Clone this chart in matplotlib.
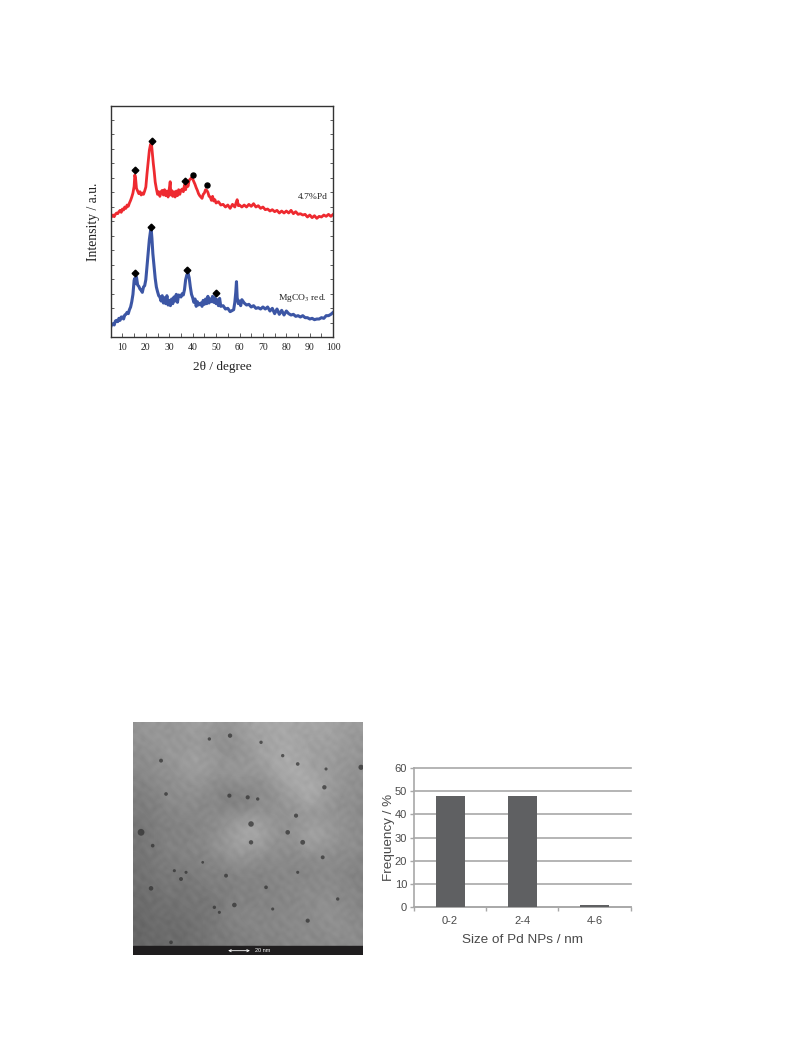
import matplotlib
matplotlib.use("Agg")
import matplotlib.pyplot as plt
import numpy as np

W, H = 793., 1057.

# XRD traces as (2theta, intensity) (arbitrary units)
red_trace = [(5,358),(5.5,362),(6,366),(6.5,361),(7,368),(7.5,372),(8,370),(8.5,376),(9,380),(9.5,374),
 (10,384),(10.5,381),(11,390),(11.5,386),(12,396),(12.5,392),(13,402),(13.5,410),(14,420),(14.5,432),
 (15,452),(15.3,486),(15.6,478),(16,446),(16.5,438),(17,430),(17.5,436),(18,426),(18.5,432),(19,428),
 (19.5,438),(20,450),(20.5,490),(21,525),(21.5,560),(22,578),(22.4,580),(22.8,550),(23.2,520),(23.6,495),
 (24,465),(24.5,445),(25,428),(25.5,436),(26,422),(26.5,436),(27,440),(27.5,426),(28,442),(28.5,424),
 (29,438),(29.5,420),(30,444),(30.4,466),(30.7,426),(31,440),(31.5,422),(32,436),(32.5,420),(33,438),
 (33.5,424),(34,442),(34.5,428),(35,440),(35.5,444),(36,436),(36.5,456),(37,442),(37.5,462),(38,452),
 (38.5,470),(39,474),(39.5,478),(40,474),(40.5,466),(41,458),(41.5,448),(42,440),(42.5,430),(43,424),
 (43.5,420),(44,416),(44.5,428),(45,432),(45.5,442),(46,440),(46.5,434),(47,422),(47.5,420),(48,410),
 (48.5,422),(49,408),(49.5,412),(50,402),(51,406),(52,396),(53,398),(54,390),(55,396),(56,386),
 (57,398),(58,390),(58.5,402),(59,412),(59.5,394),(60,396),(61,390),(62,396),(63,390),(64,398),
 (65,392),(66,400),(67,390),(68,394),(69,386),(70,390),(71,382),(72,384),(73,378),(74,382),
 (75,376),(76,380),(77,372),(78,378),(79,372),(80,378),(81,372),(82,380),(83,370),(84,376),
 (85,368),(86,370),(87,366),(88,368),(89,360),(90,366),(91,358),(92,364),(93,356),(94,362),
 (95,360),(96,366),(97,362),(98,368),(99,362),(100,368)]
blue_trace = [(5,30),(5.5,38),(6,40),(6.5,36),(7,48),(7.5,50),(8,46),(8.5,56),(9,50),(9.5,60),
 (10,60),(10.5,54),(11,66),(11.5,68),(12,74),(12.5,70),(13,82),(13.5,90),(14,106),(14.5,128),
 (15,170),(15.3,176),(15.6,160),(16,180),(16.5,156),(17,152),(17.5,144),(18,140),(18.5,134),(19,150),
 (19.5,154),(20,172),(20.5,212),(21,252),(21.5,292),(22,318),(22.3,322),(22.6,296),(23,250),(23.5,212),
 (24,176),(24.5,150),(25,136),(25.5,124),(26,120),(26.5,108),(27,124),(27.5,102),(28,118),(28.5,100),
 (29,124),(29.5,96),(30,110),(30.5,94),(31,114),(31.5,100),(32,120),(32.5,108),(33,128),(33.5,104),
 (34,126),(34.5,124),(35,120),(35.5,130),(36,126),(36.5,142),(37,172),(37.5,186),(38,192),(38.5,178),
 (39,150),(39.5,128),(40,118),(40.5,104),(41,114),(41.5,92),(42,106),(42.5,96),(43,100),(43.5,102),
 (44,92),(44.5,110),(45,98),(45.5,114),(46,100),(46.5,122),(47,102),(47.5,114),(48,106),(48.5,122),
 (49,104),(49.5,118),(50,100),(50.5,112),(51,94),(51.5,116),(52,92),(53,94),(54,84),(55,86),
 (56,76),(57,80),(57.5,82),(58,104),(58.4,134),(58.7,166),(59,118),(59.5,100),(60,108),(60.5,94),
 (61,112),(62,102),(63,96),(64,98),(65,90),(66,94),(67,86),(68,88),(69,84),(70,90),
 (71,84),(72,90),(73,78),(74,86),(75,70),(76,84),(77,68),(78,80),(79,66),(80,78),
 (81,70),(82,66),(83,68),(84,62),(85,64),(86,60),(87,64),(88,58),(89,58),(90,54),
 (91,56),(92,52),(93,54),(94,54),(95,58),(96,56),(97,64),(98,64),(99,68),(100,74)]

diamond_x = [15.5, 22.5, 36.8, 15.4, 22.3, 37.7, 49.8]
diamond_y = [500, 587, 467, 193, 330, 200, 133]
circle_x = [40, 46]
circle_y = [487, 456]

# size histogram
size_labels = ['0-2', '2-4', '4-6']
frequency = [48, 48, 1]

# TEM micrograph: coarse grey levels and the dark particles, read by eye
tem_grey = [
 [150,155,150,158,162,155,150,158,168,170,172,165,170,168,160,158],
 [146,150,156,150,155,146,140,150,162,165,172,168,160,165,158,150],
 [140,146,150,160,166,158,148,150,158,170,176,172,162,160,156,152],
 [136,142,146,152,158,150,152,156,150,160,172,178,165,158,150,146],
 [128,134,142,146,148,140,132,140,136,146,160,170,182,160,150,145],
 [124,130,138,142,140,136,128,124,138,142,152,160,170,155,146,140],
 [120,126,132,136,134,140,146,150,156,150,146,150,152,146,150,142],
 [112,122,130,128,132,138,150,168,176,156,146,150,172,160,146,140],
 [118,124,128,134,136,142,158,165,160,150,144,150,160,152,146,142],
 [110,120,126,128,130,134,142,148,142,140,138,136,140,138,140,136],
 [112,116,122,118,124,130,128,132,130,134,136,132,136,140,134,130],
 [108,112,118,114,120,124,126,130,134,130,136,140,138,142,138,132],
 [104,110,112,116,118,114,128,132,130,136,132,138,142,146,140,136],
 [100,108,106,110,112,118,130,134,136,132,138,136,140,148,142,138],
 [98,104,108,104,114,116,124,128,132,136,134,140,136,142,146,140],
 [102,106,100,108,112,118,122,126,130,128,134,136,138,136,140,138],
]
# fine mottling laid over the micrograph
tem_mottle = [
 [90,200,60,170,110,230,40,150,210,80,180,120],
 [170,50,220,100,190,70,160,240,30,140,90,210],
 [30,180,130,240,20,150,100,60,190,230,50,160],
 [210,110,70,160,200,90,250,130,80,20,170,100],
 [120,240,40,90,140,220,50,190,150,110,230,60],
 [60,150,190,210,30,120,170,70,240,90,130,200],
 [230,20,110,70,250,160,80,210,40,180,60,140],
 [140,90,220,130,60,190,30,120,170,250,100,40],
 [50,170,80,200,100,40,230,150,90,130,210,190],
 [190,130,30,150,240,110,70,20,220,60,160,80],
 [100,220,160,50,180,10,140,200,120,240,30,130],
 [240,60,200,120,80,170,210,90,50,150,110,20],
]
# particles as (x, y, area)
spots = [(230,50,6),(292,40,10),(385,60,6),(85,115,8),(450,100,6),(495,125,7),(580,140,5),(685,135,14),
 (100,215,7),(290,220,9),(345,225,9),(375,230,6),(575,195,10),(355,305,16),(25,330,24),(490,280,9),
 (355,360,10),(510,360,12),(465,330,11),(570,405,8),(60,370,7),(125,445,5),(145,470,8),(160,450,5),
 (55,498,11),(400,495,7),(305,548,11),(245,555,6),(420,560,5),(525,595,9),(615,530,6),(115,660,7),
 (495,450,5),(280,460,8),(210,420,4),(260,570,5)]


def place(left, top, right, bottom):
    return fig.add_axes([left/W, 1-bottom/H, (right-left)/W, (bottom-top)/H])


fig = plt.figure(figsize=(7.93, 10.57), dpi=100)
plt.rcParams['mathtext.fontset'] = 'stix'

# XRD panel
ax = place(110.7, 105.7, 333.2, 337)
ax.plot(*zip(*red_trace), color='#ee2a30', lw=2.0)
ax.plot(*zip(*blue_trace), color='#3c56a5', lw=2.2)
ax.plot(diamond_x, diamond_y, 'D', color='k', ms=3.4, ls='none')
ax.plot(circle_x, circle_y, 'o', color='k', ms=3.6, ls='none')
ax.set_xlim(5, 100)
ax.set_ylim(0, 694)
ax.set_xticks(np.arange(10, 101, 10))
ax.set_xticks(np.arange(5, 100, 5), minor=True)
ax.set_yticks(np.arange(0, 694, 43.4))
ax.tick_params(axis='x', which='both', direction='in', top=False, length=3, width=0.6, color='#444444',
               labelsize=7, pad=4, labelcolor='#222222', labelfontfamily='Liberation Serif')
ax.tick_params(axis='y', direction='in', left=True, right=True, labelleft=False, length=2.5, width=0.6, color='#444444')
for side in ax.spines.values():
    side.set_linewidth(1.0)
    side.set_color('#333333')
ax.set_xlabel('2θ / degree', family='Liberation Serif', fontsize=9.5, labelpad=7, color='#222222')
ax.set_ylabel('Intensity / a.u.', family='Liberation Serif', fontsize=9.8, labelpad=8, color='#222222')
ax.text(91.4, 421, '4.7%Pd', family='Liberation Serif', fontsize=6.8, ha='center', va='center', color='#222222')
ax.text(87, 116, 'MgCO$_3$ red.', family='Liberation Serif', fontsize=6.8, ha='center', va='center', color='#222222')

# TEM panel
tem = place(132.7, 722.3, 362.7, 955)
tem.imshow(tem_grey, cmap='gray', vmin=0, vmax=255, extent=(0, 690, 698, 0), aspect='auto', interpolation='bicubic')
tem.imshow(np.tile(tem_mottle, (5, 5)), cmap='gray', vmin=0, vmax=255, alpha=0.1,
           extent=(0, 690, 698, 0), aspect='auto', interpolation='bicubic')
tem.scatter(*zip(*spots), c='#2e2e2e', alpha=0.7, linewidths=0)
tem.axhspan(672, 698, color='#1f1d1e')
tem.annotate('', xy=(278, 685), xytext=(360, 685), arrowprops=dict(arrowstyle='<->', color='white', lw=0.6, mutation_scale=4))
tem.text(368, 685, '20 nm', color='white', fontsize=4, va='center', family='Liberation Sans')
tem.set_xlim(0, 690)
tem.set_ylim(698, 0)
tem.axis('off')

# size distribution
bar = place(414, 767.7, 630.7, 907.3)
pos = np.arange(len(size_labels))
bar.bar(pos, frequency, width=0.4, color='#5f6062', zorder=3)
bar.set_xlim(-0.5, 2.5)
bar.set_ylim(0, 60)
bar.set_yticks(np.arange(0, 61, 10))
bar.set_xticks(pos, size_labels)
bar.set_xticks(np.arange(-0.5, 2.6, 1), minor=True)
for line in bar.yaxis.grid(True, color='#a8a8a8', lw=1.2, zorder=0) or bar.get_ygridlines():
    line.set_clip_on(False)
bar.set_axisbelow(True)
bar.tick_params(axis='x', which='major', length=0, labelsize=8, labelcolor='#4a4a4a', pad=6, labelfontfamily='Liberation Sans')
bar.tick_params(axis='x', which='minor', length=3, width=1, color='#a8a8a8')
bar.tick_params(axis='y', length=3, width=1, color='#a8a8a8', labelsize=8, labelcolor='#4a4a4a', pad=2, labelfontfamily='Liberation Sans')
for s in ['top', 'right']:
    bar.spines[s].set_visible(False)
for s in ['left', 'bottom']:
    bar.spines[s].set_color('#a8a8a8')
    bar.spines[s].set_linewidth(1.2)
bar.set_xlabel('Size of Pd NPs / nm', family='Liberation Sans', fontsize=9.7, color='#4a4a4a', labelpad=6)
bar.set_ylabel('Frequency / %', family='Liberation Sans', fontsize=9.7, color='#4a4a4a', labelpad=0)

fig.savefig('out.png', dpi=100)
